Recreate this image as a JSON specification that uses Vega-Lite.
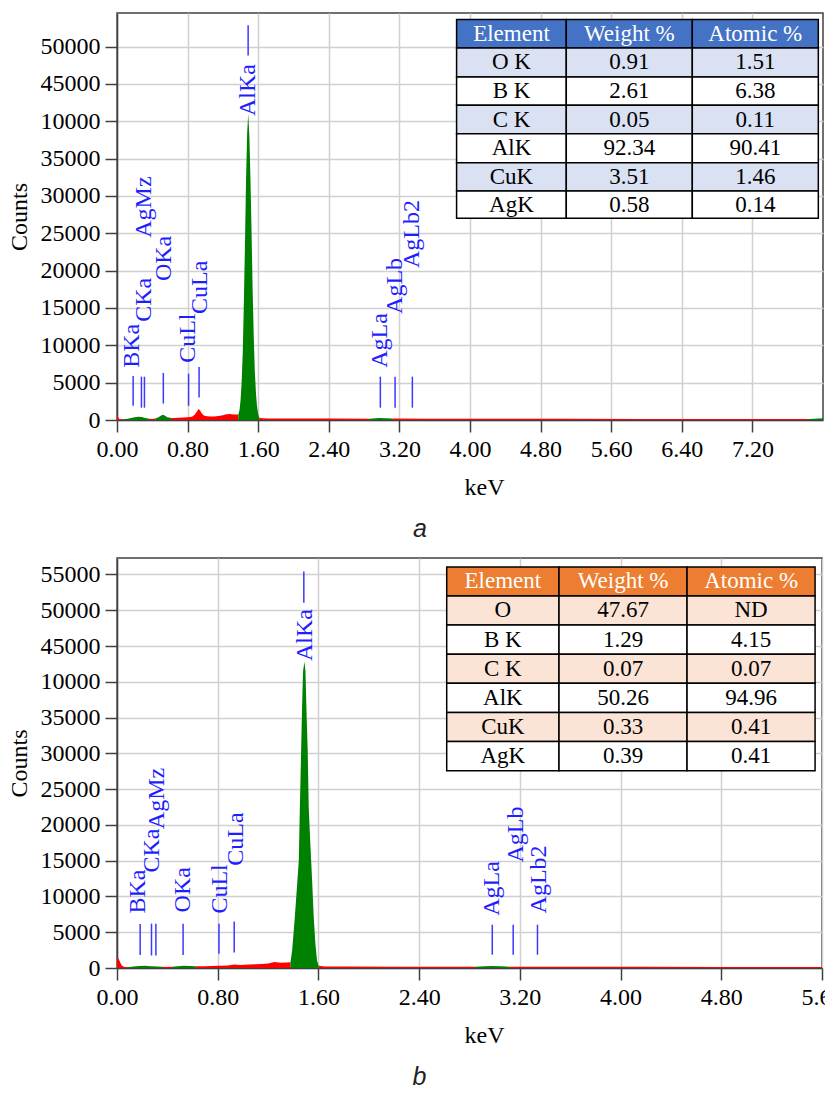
{
"$schema": "https://vega.github.io/schema/vega-lite/v6.json",
"background": "white",
"padding": {"left": 6, "top": 12, "right": 0, "bottom": 0},
"spacing": 14,
"config": {
  "font": "Liberation Serif",
  "view": {"stroke": "#404040", "strokeWidth": 1.5},
  "text": {"font": "Liberation Serif"},
  "axis": {"labelFont": "Liberation Serif", "labelFontSize": 24, "labelColor": "#000000", "titleFont": "Liberation Serif", "titleFontSize": 24, "titleFontWeight": "normal", "titleColor": "#000000", "tickColor": "#404040", "tickWidth": 1.5, "tickSize": 12, "domainColor": "#404040", "domainWidth": 1.5, "gridColor": "#d0d0d0", "gridWidth": 1.5, "labelFlush": false, "labelOverlap": false, "labelPadding": 5}
},
"datasets": {
  "specA": [
    {"x":0,"y":600,"c":"bg","s":1},{"x":0.01,"y":480,"c":"bg","s":1},{"x":0.02,"y":250,"c":"bg","s":1},{"x":0.03,"y":100,"c":"bg","s":1},{"x":0.05,"y":80,"c":"bg","s":1},{"x":0.083,"y":100,"c":"bg","s":1},
    {"x":0.083,"y":100,"c":"roi","s":2},{"x":0.12,"y":170,"c":"roi","s":2},{"x":0.16,"y":260,"c":"roi","s":2},{"x":0.2,"y":370,"c":"roi","s":2},{"x":0.245,"y":440,"c":"roi","s":2},{"x":0.28,"y":390,"c":"roi","s":2},{"x":0.32,"y":260,"c":"roi","s":2},{"x":0.367,"y":160,"c":"roi","s":2},
    {"x":0.367,"y":160,"c":"bg","s":3},{"x":0.4,"y":150,"c":"bg","s":3},{"x":0.435,"y":210,"c":"bg","s":3},
    {"x":0.435,"y":210,"c":"roi","s":4},{"x":0.47,"y":360,"c":"roi","s":4},{"x":0.5,"y":600,"c":"roi","s":4},{"x":0.518,"y":710,"c":"roi","s":4},{"x":0.54,"y":600,"c":"roi","s":4},{"x":0.57,"y":360,"c":"roi","s":4},{"x":0.613,"y":260,"c":"roi","s":4},
    {"x":0.613,"y":260,"c":"bg","s":5},{"x":0.65,"y":270,"c":"bg","s":5},{"x":0.7,"y":300,"c":"bg","s":5},{"x":0.75,"y":320,"c":"bg","s":5},{"x":0.8,"y":360,"c":"bg","s":5},{"x":0.85,"y":450,"c":"bg","s":5},{"x":0.88,"y":700,"c":"bg","s":5},{"x":0.91,"y":1200,"c":"bg","s":5},{"x":0.925,"y":1470,"c":"bg","s":5},{"x":0.94,"y":1300,"c":"bg","s":5},{"x":0.96,"y":900,"c":"bg","s":5},{"x":0.98,"y":650,"c":"bg","s":5},{"x":1.0,"y":520,"c":"bg","s":5},{"x":1.05,"y":480,"c":"bg","s":5},{"x":1.1,"y":480,"c":"bg","s":5},{"x":1.15,"y":520,"c":"bg","s":5},{"x":1.2,"y":650,"c":"bg","s":5},{"x":1.24,"y":760,"c":"bg","s":5},{"x":1.28,"y":820,"c":"bg","s":5},{"x":1.32,"y":750,"c":"bg","s":5},{"x":1.35,"y":720,"c":"bg","s":5},{"x":1.375,"y":720,"c":"bg","s":5},
    {"x":1.375,"y":720,"c":"roi","s":6},{"x":1.388,"y":1300,"c":"roi","s":6},{"x":1.4,"y":2600,"c":"roi","s":6},{"x":1.412,"y":5000,"c":"roi","s":6},{"x":1.425,"y":9000,"c":"roi","s":6},{"x":1.437,"y":15500,"c":"roi","s":6},{"x":1.45,"y":23500,"c":"roi","s":6},{"x":1.462,"y":32000,"c":"roi","s":6},{"x":1.475,"y":38500,"c":"roi","s":6},{"x":1.487,"y":41000,"c":"roi","s":6},{"x":1.5,"y":38000,"c":"roi","s":6},{"x":1.512,"y":32500,"c":"roi","s":6},{"x":1.525,"y":25000,"c":"roi","s":6},{"x":1.537,"y":17500,"c":"roi","s":6},{"x":1.55,"y":11000,"c":"roi","s":6},{"x":1.562,"y":6500,"c":"roi","s":6},{"x":1.575,"y":3500,"c":"roi","s":6},{"x":1.587,"y":1800,"c":"roi","s":6},{"x":1.6,"y":800,"c":"roi","s":6},{"x":1.612,"y":300,"c":"roi","s":6},
    {"x":1.612,"y":300,"c":"bg","s":7},{"x":1.65,"y":230,"c":"bg","s":7},{"x":1.7,"y":210,"c":"bg","s":7},{"x":2.0,"y":200,"c":"bg","s":7},{"x":2.4,"y":190,"c":"bg","s":7},{"x":2.86,"y":180,"c":"bg","s":7},
    {"x":2.86,"y":180,"c":"roi","s":8},{"x":2.93,"y":240,"c":"roi","s":8},{"x":2.98,"y":280,"c":"roi","s":8},{"x":3.05,"y":240,"c":"roi","s":8},{"x":3.12,"y":190,"c":"roi","s":8},
    {"x":3.12,"y":190,"c":"bg","s":9},{"x":3.5,"y":180,"c":"bg","s":9},{"x":4.0,"y":170,"c":"bg","s":9},{"x":5.0,"y":160,"c":"bg","s":9},{"x":6.0,"y":150,"c":"bg","s":9},{"x":7.0,"y":140,"c":"bg","s":9},{"x":7.84,"y":140,"c":"bg","s":9},
    {"x":7.84,"y":140,"c":"roi","s":10},{"x":7.9,"y":160,"c":"roi","s":10},{"x":7.95,"y":190,"c":"roi","s":10},{"x":8.0,"y":220,"c":"roi","s":10}
  ],
  "specB": [
    {"x":0,"y":1400,"c":"bg","s":1},{"x":0.01,"y":1350,"c":"bg","s":1},{"x":0.02,"y":1000,"c":"bg","s":1},{"x":0.03,"y":600,"c":"bg","s":1},{"x":0.04,"y":330,"c":"bg","s":1},{"x":0.055,"y":160,"c":"bg","s":1},{"x":0.07,"y":100,"c":"bg","s":1},{"x":0.092,"y":110,"c":"bg","s":1},
    {"x":0.092,"y":110,"c":"roi","s":2},{"x":0.13,"y":200,"c":"roi","s":2},{"x":0.18,"y":280,"c":"roi","s":2},{"x":0.22,"y":300,"c":"roi","s":2},{"x":0.27,"y":260,"c":"roi","s":2},{"x":0.32,"y":200,"c":"roi","s":2},{"x":0.36,"y":160,"c":"roi","s":2},
    {"x":0.36,"y":160,"c":"bg","s":3},{"x":0.4,"y":140,"c":"bg","s":3},{"x":0.44,"y":170,"c":"bg","s":3},
    {"x":0.44,"y":170,"c":"roi","s":4},{"x":0.48,"y":250,"c":"roi","s":4},{"x":0.53,"y":320,"c":"roi","s":4},{"x":0.58,"y":270,"c":"roi","s":4},{"x":0.625,"y":230,"c":"roi","s":4},
    {"x":0.625,"y":230,"c":"bg","s":5},{"x":0.7,"y":250,"c":"bg","s":5},{"x":0.8,"y":300,"c":"bg","s":5},{"x":0.88,"y":360,"c":"bg","s":5},{"x":0.93,"y":480,"c":"bg","s":5},{"x":0.98,"y":430,"c":"bg","s":5},{"x":1.05,"y":480,"c":"bg","s":5},{"x":1.1,"y":520,"c":"bg","s":5},{"x":1.15,"y":560,"c":"bg","s":5},{"x":1.2,"y":620,"c":"bg","s":5},{"x":1.25,"y":850,"c":"bg","s":5},{"x":1.3,"y":720,"c":"bg","s":5},{"x":1.35,"y":760,"c":"bg","s":5},{"x":1.378,"y":800,"c":"bg","s":5},
    {"x":1.378,"y":800,"c":"roi","s":6},{"x":1.391,"y":2400,"c":"roi","s":6},{"x":1.412,"y":7000,"c":"roi","s":6},{"x":1.431,"y":11700,"c":"roi","s":6},{"x":1.444,"y":15000,"c":"roi","s":6},{"x":1.452,"y":22000,"c":"roi","s":6},{"x":1.462,"y":29900,"c":"roi","s":6},{"x":1.47,"y":36400,"c":"roi","s":6},{"x":1.478,"y":41500,"c":"roi","s":6},{"x":1.489,"y":42800,"c":"roi","s":6},{"x":1.497,"y":41500,"c":"roi","s":6},{"x":1.505,"y":36000,"c":"roi","s":6},{"x":1.515,"y":30300,"c":"roi","s":6},{"x":1.523,"y":22400,"c":"roi","s":6},{"x":1.536,"y":17300,"c":"roi","s":6},{"x":1.55,"y":12200,"c":"roi","s":6},{"x":1.563,"y":7000,"c":"roi","s":6},{"x":1.576,"y":3400,"c":"roi","s":6},{"x":1.589,"y":1000,"c":"roi","s":6},{"x":1.602,"y":300,"c":"roi","s":6},
    {"x":1.602,"y":300,"c":"bg","s":7},{"x":1.65,"y":220,"c":"bg","s":7},{"x":1.8,"y":200,"c":"bg","s":7},{"x":2.2,"y":190,"c":"bg","s":7},{"x":2.6,"y":180,"c":"bg","s":7},{"x":2.843,"y":180,"c":"bg","s":7},
    {"x":2.843,"y":180,"c":"roi","s":8},{"x":2.92,"y":230,"c":"roi","s":8},{"x":2.98,"y":270,"c":"roi","s":8},{"x":3.05,"y":230,"c":"roi","s":8},{"x":3.12,"y":180,"c":"roi","s":8},
    {"x":3.12,"y":180,"c":"bg","s":9},{"x":3.6,"y":170,"c":"bg","s":9},{"x":4.2,"y":160,"c":"bg","s":9},{"x":4.8,"y":150,"c":"bg","s":9},{"x":5.6,"y":140,"c":"bg","s":9}
  ],
  "linesA": [
    {"x":0.183,"y":1900,"y2":5900},{"x":0.277,"y":1650,"y2":5800},{"x":0.311,"y":1650,"y2":5800},{"x":0.525,"y":2200,"y2":6300},{"x":0.811,"y":1900,"y2":6200},{"x":0.93,"y":3000,"y2":7100},{"x":1.486,"y":48800,"y2":52850},{"x":2.984,"y":1650,"y2":5800},{"x":3.151,"y":1650,"y2":5800},{"x":3.347,"y":1650,"y2":5800}
  ],
  "labA": [
    {"x":0.168,"y":7000,"t":"BKa"},{"x":0.304,"y":13150,"t":"CKa"},{"x":0.309,"y":24400,"t":"AgMz"},{"x":0.536,"y":18600,"t":"OKa"},{"x":0.802,"y":7650,"t":"CuLl"},{"x":0.938,"y":14200,"t":"CuLa"},{"x":1.482,"y":40700,"t":"AlKa"},{"x":2.984,"y":7000,"t":"AgLa"},{"x":3.154,"y":14200,"t":"AgLb"},{"x":3.34,"y":20350,"t":"AgLb2"}
  ],
  "linesB": [
    {"x":0.184,"y":1800,"y2":6150},{"x":0.274,"y":1750,"y2":6200},{"x":0.309,"y":1750,"y2":6200},{"x":0.525,"y":1800,"y2":6200},{"x":0.81,"y":2000,"y2":6200},{"x":0.931,"y":2180,"y2":6500},{"x":1.484,"y":51060,"y2":55400},{"x":2.981,"y":1860,"y2":6050},{"x":3.147,"y":1860,"y2":6050},{"x":3.34,"y":1860,"y2":6050}
  ],
  "labB": [
    {"x":0.169,"y":7600,"t":"BKa"},{"x":0.28,"y":13350,"t":"CKa"},{"x":0.319,"y":19400,"t":"AgMz"},{"x":0.525,"y":7770,"t":"OKa"},{"x":0.818,"y":7600,"t":"CuLl"},{"x":0.949,"y":14300,"t":"CuLa"},{"x":1.494,"y":42900,"t":"AlKa"},{"x":2.978,"y":7300,"t":"AgLa"},{"x":3.173,"y":14750,"t":"AgLb"},{"x":3.35,"y":7630,"t":"AgLb2"}
  ],
  "tabA": [
    {"x":3.848,"x2":5.091,"y":49817,"y2":53614,"xc":4.470,"yc":51716,"t":"Element","k":"hA"},
    {"x":5.091,"x2":6.519,"y":49817,"y2":53614,"xc":5.805,"yc":51716,"t":"Weight %","k":"hA"},
    {"x":6.519,"x2":7.947,"y":49817,"y2":53614,"xc":7.233,"yc":51716,"t":"Atomic %","k":"hA"},
    {"x":3.848,"x2":5.091,"y":45939,"y2":49817,"xc":4.470,"yc":47878,"t":"O K","k":"sA"},
    {"x":5.091,"x2":6.519,"y":45939,"y2":49817,"xc":5.805,"yc":47878,"t":"0.91","k":"sA"},
    {"x":6.519,"x2":7.947,"y":45939,"y2":49817,"xc":7.233,"yc":47878,"t":"1.51","k":"sA"},
    {"x":3.848,"x2":5.091,"y":42156,"y2":45939,"xc":4.470,"yc":44048,"t":"B K","k":"w"},
    {"x":5.091,"x2":6.519,"y":42156,"y2":45939,"xc":5.805,"yc":44048,"t":"2.61","k":"w"},
    {"x":6.519,"x2":7.947,"y":42156,"y2":45939,"xc":7.233,"yc":44048,"t":"6.38","k":"w"},
    {"x":3.848,"x2":5.091,"y":38318,"y2":42156,"xc":4.470,"yc":40237,"t":"C K","k":"sA"},
    {"x":5.091,"x2":6.519,"y":38318,"y2":42156,"xc":5.805,"yc":40237,"t":"0.05","k":"sA"},
    {"x":6.519,"x2":7.947,"y":38318,"y2":42156,"xc":7.233,"yc":40237,"t":"0.11","k":"sA"},
    {"x":3.848,"x2":5.091,"y":34441,"y2":38318,"xc":4.470,"yc":36380,"t":"AlK","k":"w"},
    {"x":5.091,"x2":6.519,"y":34441,"y2":38318,"xc":5.805,"yc":36380,"t":"92.34","k":"w"},
    {"x":6.519,"x2":7.947,"y":34441,"y2":38318,"xc":7.233,"yc":36380,"t":"90.41","k":"w"},
    {"x":3.848,"x2":5.091,"y":30657,"y2":34441,"xc":4.470,"yc":32549,"t":"CuK","k":"sA"},
    {"x":5.091,"x2":6.519,"y":30657,"y2":34441,"xc":5.805,"yc":32549,"t":"3.51","k":"sA"},
    {"x":6.519,"x2":7.947,"y":30657,"y2":34441,"xc":7.233,"yc":32549,"t":"1.46","k":"sA"},
    {"x":3.848,"x2":5.091,"y":27007,"y2":30657,"xc":4.470,"yc":28832,"t":"AgK","k":"w"},
    {"x":5.091,"x2":6.519,"y":27007,"y2":30657,"xc":5.805,"yc":28832,"t":"0.58","k":"w"},
    {"x":6.519,"x2":7.947,"y":27007,"y2":30657,"xc":7.233,"yc":28832,"t":"0.14","k":"w"}
  ],
  "tabB": [
    {"x":2.619,"x2":3.511,"y":51995,"y2":56045,"xc":3.065,"yc":54020,"t":"Element","k":"hB"},
    {"x":3.511,"x2":4.528,"y":51995,"y2":56045,"xc":4.020,"yc":54020,"t":"Weight %","k":"hB"},
    {"x":4.528,"x2":5.545,"y":51995,"y2":56045,"xc":5.037,"yc":54020,"t":"Atomic %","k":"hB"},
    {"x":2.619,"x2":3.511,"y":47945,"y2":51995,"xc":3.065,"yc":49970,"t":"O","k":"sB"},
    {"x":3.511,"x2":4.528,"y":47945,"y2":51995,"xc":4.020,"yc":49970,"t":"47.67","k":"sB"},
    {"x":4.528,"x2":5.545,"y":47945,"y2":51995,"xc":5.037,"yc":49970,"t":"ND","k":"sB"},
    {"x":2.619,"x2":3.511,"y":43853,"y2":47945,"xc":3.065,"yc":45899,"t":"B K","k":"w"},
    {"x":3.511,"x2":4.528,"y":43853,"y2":47945,"xc":4.020,"yc":45899,"t":"1.29","k":"w"},
    {"x":4.528,"x2":5.545,"y":43853,"y2":47945,"xc":5.037,"yc":45899,"t":"4.15","k":"w"},
    {"x":2.619,"x2":3.511,"y":39803,"y2":43853,"xc":3.065,"yc":41828,"t":"C K","k":"sB"},
    {"x":3.511,"x2":4.528,"y":39803,"y2":43853,"xc":4.020,"yc":41828,"t":"0.07","k":"sB"},
    {"x":4.528,"x2":5.545,"y":39803,"y2":43853,"xc":5.037,"yc":41828,"t":"0.07","k":"sB"},
    {"x":2.619,"x2":3.511,"y":35697,"y2":39803,"xc":3.065,"yc":37750,"t":"AlK","k":"w"},
    {"x":3.511,"x2":4.528,"y":35697,"y2":39803,"xc":4.020,"yc":37750,"t":"50.26","k":"w"},
    {"x":4.528,"x2":5.545,"y":35697,"y2":39803,"xc":5.037,"yc":37750,"t":"94.96","k":"w"},
    {"x":2.619,"x2":3.511,"y":31647,"y2":35697,"xc":3.065,"yc":33672,"t":"CuK","k":"sB"},
    {"x":3.511,"x2":4.528,"y":31647,"y2":35697,"xc":4.020,"yc":33672,"t":"0.33","k":"sB"},
    {"x":4.528,"x2":5.545,"y":31647,"y2":35697,"xc":5.037,"yc":33672,"t":"0.41","k":"sB"},
    {"x":2.619,"x2":3.511,"y":27555,"y2":31647,"xc":3.065,"yc":29601,"t":"AgK","k":"w"},
    {"x":3.511,"x2":4.528,"y":27555,"y2":31647,"xc":4.020,"yc":29601,"t":"0.39","k":"w"},
    {"x":4.528,"x2":5.545,"y":27555,"y2":31647,"xc":5.037,"yc":29601,"t":"0.41","k":"w"}
  ]
},
"vconcat": [
  {
    "width": 706, "height": 407,
    "title": {"text": "a", "orient": "bottom", "frame": "group", "anchor": "middle", "dx": -50, "offset": 18, "font": "Liberation Sans", "fontStyle": "italic", "fontWeight": "normal", "fontSize": 25, "color": "#222222"},
    "layer": [
      {"data": {"name": "specA"}, "mark": {"type": "area", "interpolate": "linear"},
       "encoding": {
         "x": {"field": "x", "type": "quantitative", "title": "keV", "scale": {"domain": [0, 8], "nice": false, "zero": false}, "axis": {"values": [0, 0.8, 1.6, 2.4, 3.2, 4, 4.8, 5.6, 6.4, 7.2], "format": ".2f", "titleX": 367, "titlePadding": 14}},
         "y": {"field": "y", "type": "quantitative", "title": "Counts", "stack": null, "scale": {"domain": [0, 54500], "nice": false}, "axis": {"values": [0, 5000, 10000, 15000, 20000, 25000, 30000, 35000, 40000, 45000, 50000], "format": "d", "labelOverlap": false, "labelExpr": "datum.value == 40000 ? '10000' : datum.label", "titlePadding": 9}},
         "color": {"field": "c", "type": "nominal", "scale": {"domain": ["bg", "roi"], "range": ["#FF0000", "#008000"]}, "legend": null},
         "detail": {"field": "s", "type": "nominal"}
       }},
      {"data": {"name": "linesA"}, "mark": {"type": "rule", "color": "#3a3aff", "strokeWidth": 1.5},
       "encoding": {
         "x": {"field": "x", "type": "quantitative", "title": "keV", "scale": {"domain": [0, 8], "nice": false, "zero": false}, "axis": {"values": [0, 0.8, 1.6, 2.4, 3.2, 4, 4.8, 5.6, 6.4, 7.2], "format": ".2f", "titleX": 367, "titlePadding": 14}},
         "y": {"field": "y", "type": "quantitative", "title": "Counts", "scale": {"domain": [0, 54500], "nice": false}, "axis": {"values": [0, 5000, 10000, 15000, 20000, 25000, 30000, 35000, 40000, 45000, 50000], "format": "d", "labelOverlap": false, "labelExpr": "datum.value == 40000 ? '10000' : datum.label", "titlePadding": 9}},
         "y2": {"field": "y2"}
       }},
      {"data": {"name": "labA"}, "mark": {"type": "text", "angle": 270, "align": "left", "baseline": "middle", "font": "Liberation Serif", "fontSize": 24, "color": "#1e1eff"},
       "encoding": {
         "x": {"field": "x", "type": "quantitative", "title": "keV", "scale": {"domain": [0, 8], "nice": false, "zero": false}, "axis": {"values": [0, 0.8, 1.6, 2.4, 3.2, 4, 4.8, 5.6, 6.4, 7.2], "format": ".2f", "titleX": 367, "titlePadding": 14}},
         "y": {"field": "y", "type": "quantitative", "title": "Counts", "scale": {"domain": [0, 54500], "nice": false}, "axis": {"values": [0, 5000, 10000, 15000, 20000, 25000, 30000, 35000, 40000, 45000, 50000], "format": "d", "labelOverlap": false, "labelExpr": "datum.value == 40000 ? '10000' : datum.label", "titlePadding": 9}},
         "text": {"field": "t", "type": "nominal"}
       }},
      {"data": {"name": "tabA"}, "mark": {"type": "rect", "stroke": "#000000", "strokeWidth": 1.5},
       "encoding": {
         "x": {"field": "x", "type": "quantitative", "title": "keV", "scale": {"domain": [0, 8], "nice": false, "zero": false}, "axis": {"values": [0, 0.8, 1.6, 2.4, 3.2, 4, 4.8, 5.6, 6.4, 7.2], "format": ".2f", "titleX": 367, "titlePadding": 14}},
         "x2": {"field": "x2"},
         "y": {"field": "y", "type": "quantitative", "title": "Counts", "scale": {"domain": [0, 54500], "nice": false}, "axis": {"values": [0, 5000, 10000, 15000, 20000, 25000, 30000, 35000, 40000, 45000, 50000], "format": "d", "labelOverlap": false, "labelExpr": "datum.value == 40000 ? '10000' : datum.label", "titlePadding": 9}},
         "y2": {"field": "y2"},
         "fill": {"field": "k", "type": "nominal", "scale": {"domain": ["hA", "sA", "w", "hB", "sB"], "range": ["#4472C4", "#D9E1F2", "#FFFFFF", "#ED7D31", "#FBE4D5"]}, "legend": null}
       }},
      {"data": {"name": "tabA"}, "mark": {"type": "text", "align": "center", "baseline": "middle", "font": "Liberation Serif", "fontSize": 23},
       "encoding": {
         "x": {"field": "xc", "type": "quantitative", "title": "keV", "scale": {"domain": [0, 8], "nice": false, "zero": false}, "axis": {"values": [0, 0.8, 1.6, 2.4, 3.2, 4, 4.8, 5.6, 6.4, 7.2], "format": ".2f", "titleX": 367, "titlePadding": 14}},
         "y": {"field": "yc", "type": "quantitative", "title": "Counts", "scale": {"domain": [0, 54500], "nice": false}, "axis": {"values": [0, 5000, 10000, 15000, 20000, 25000, 30000, 35000, 40000, 45000, 50000], "format": "d", "labelOverlap": false, "labelExpr": "datum.value == 40000 ? '10000' : datum.label", "titlePadding": 9}},
         "text": {"field": "t", "type": "nominal"},
         "color": {"condition": {"test": "datum.k == 'hA' || datum.k == 'hB'", "value": "#FFFFFF"}, "value": "#000000"}
       }}
    ]
  },
  {
    "width": 705, "height": 410,
    "title": {"text": "b", "orient": "bottom", "frame": "group", "anchor": "middle", "dx": -50, "offset": 18, "font": "Liberation Sans", "fontStyle": "italic", "fontWeight": "normal", "fontSize": 25, "color": "#222222"},
    "layer": [
      {"data": {"name": "specB"}, "mark": {"type": "area", "interpolate": "linear"},
       "encoding": {
         "x": {"field": "x", "type": "quantitative", "title": "keV", "scale": {"domain": [0, 5.6], "nice": false, "zero": false}, "axis": {"values": [0, 0.8, 1.6, 2.4, 3.2, 4, 4.8, 5.6], "format": ".2f", "titleX": 367, "titlePadding": 14}},
         "y": {"field": "y", "type": "quantitative", "title": "Counts", "stack": null, "scale": {"domain": [0, 57300], "nice": false}, "axis": {"values": [0, 5000, 10000, 15000, 20000, 25000, 30000, 35000, 40000, 45000, 50000, 55000], "format": "d", "labelOverlap": false, "labelExpr": "datum.value == 40000 ? '10000' : datum.label", "titlePadding": 9}},
         "color": {"field": "c", "type": "nominal", "scale": {"domain": ["bg", "roi"], "range": ["#FF0000", "#008000"]}, "legend": null},
         "detail": {"field": "s", "type": "nominal"}
       }},
      {"data": {"name": "linesB"}, "mark": {"type": "rule", "color": "#3a3aff", "strokeWidth": 1.5},
       "encoding": {
         "x": {"field": "x", "type": "quantitative", "title": "keV", "scale": {"domain": [0, 5.6], "nice": false, "zero": false}, "axis": {"values": [0, 0.8, 1.6, 2.4, 3.2, 4, 4.8, 5.6], "format": ".2f", "titleX": 367, "titlePadding": 14}},
         "y": {"field": "y", "type": "quantitative", "title": "Counts", "scale": {"domain": [0, 57300], "nice": false}, "axis": {"values": [0, 5000, 10000, 15000, 20000, 25000, 30000, 35000, 40000, 45000, 50000, 55000], "format": "d", "labelOverlap": false, "labelExpr": "datum.value == 40000 ? '10000' : datum.label", "titlePadding": 9}},
         "y2": {"field": "y2"}
       }},
      {"data": {"name": "labB"}, "mark": {"type": "text", "angle": 270, "align": "left", "baseline": "middle", "font": "Liberation Serif", "fontSize": 24, "color": "#1e1eff"},
       "encoding": {
         "x": {"field": "x", "type": "quantitative", "title": "keV", "scale": {"domain": [0, 5.6], "nice": false, "zero": false}, "axis": {"values": [0, 0.8, 1.6, 2.4, 3.2, 4, 4.8, 5.6], "format": ".2f", "titleX": 367, "titlePadding": 14}},
         "y": {"field": "y", "type": "quantitative", "title": "Counts", "scale": {"domain": [0, 57300], "nice": false}, "axis": {"values": [0, 5000, 10000, 15000, 20000, 25000, 30000, 35000, 40000, 45000, 50000, 55000], "format": "d", "labelOverlap": false, "labelExpr": "datum.value == 40000 ? '10000' : datum.label", "titlePadding": 9}},
         "text": {"field": "t", "type": "nominal"}
       }},
      {"data": {"name": "tabB"}, "mark": {"type": "rect", "stroke": "#000000", "strokeWidth": 1.5},
       "encoding": {
         "x": {"field": "x", "type": "quantitative", "title": "keV", "scale": {"domain": [0, 5.6], "nice": false, "zero": false}, "axis": {"values": [0, 0.8, 1.6, 2.4, 3.2, 4, 4.8, 5.6], "format": ".2f", "titleX": 367, "titlePadding": 14}},
         "x2": {"field": "x2"},
         "y": {"field": "y", "type": "quantitative", "title": "Counts", "scale": {"domain": [0, 57300], "nice": false}, "axis": {"values": [0, 5000, 10000, 15000, 20000, 25000, 30000, 35000, 40000, 45000, 50000, 55000], "format": "d", "labelOverlap": false, "labelExpr": "datum.value == 40000 ? '10000' : datum.label", "titlePadding": 9}},
         "y2": {"field": "y2"},
         "fill": {"field": "k", "type": "nominal", "scale": {"domain": ["hA", "sA", "w", "hB", "sB"], "range": ["#4472C4", "#D9E1F2", "#FFFFFF", "#ED7D31", "#FBE4D5"]}, "legend": null}
       }},
      {"data": {"name": "tabB"}, "mark": {"type": "text", "align": "center", "baseline": "middle", "font": "Liberation Serif", "fontSize": 23},
       "encoding": {
         "x": {"field": "xc", "type": "quantitative", "title": "keV", "scale": {"domain": [0, 5.6], "nice": false, "zero": false}, "axis": {"values": [0, 0.8, 1.6, 2.4, 3.2, 4, 4.8, 5.6], "format": ".2f", "titleX": 367, "titlePadding": 14}},
         "y": {"field": "yc", "type": "quantitative", "title": "Counts", "scale": {"domain": [0, 57300], "nice": false}, "axis": {"values": [0, 5000, 10000, 15000, 20000, 25000, 30000, 35000, 40000, 45000, 50000, 55000], "format": "d", "labelOverlap": false, "labelExpr": "datum.value == 40000 ? '10000' : datum.label", "titlePadding": 9}},
         "text": {"field": "t", "type": "nominal"},
         "color": {"condition": {"test": "datum.k == 'hA' || datum.k == 'hB'", "value": "#FFFFFF"}, "value": "#000000"}
       }}
    ]
  }
]
}
